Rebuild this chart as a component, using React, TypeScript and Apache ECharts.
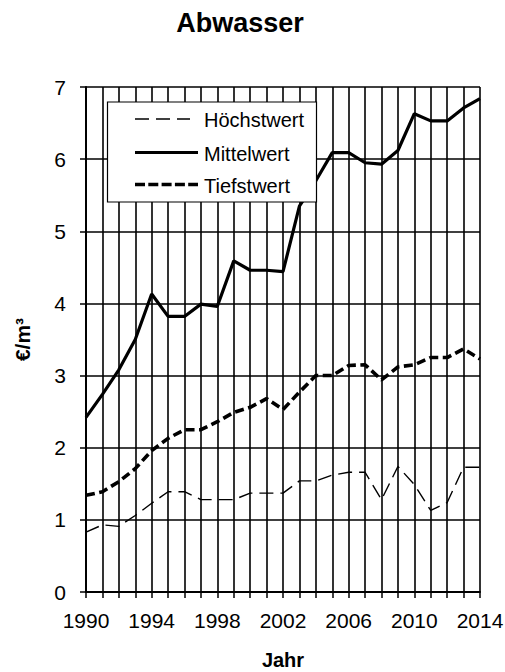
import React, { useEffect, useRef } from "react";
import * as echarts from "echarts";

const years = [1990,1991,1992,1993,1994,1995,1996,1997,1998,1999,2000,2001,2002,2003,2004,2005,2006,2007,2008,2009,2010,2011,2012,2013,2014];
const hoechstwert = [0.83,0.93,0.91,1.06,1.23,1.39,1.39,1.28,1.28,1.28,1.37,1.37,1.37,1.54,1.54,1.62,1.66,1.66,1.28,1.74,1.49,1.13,1.24,1.73,1.73];
const mittelwert = [2.42,2.74,3.08,3.5,4.13,3.82,3.82,3.99,3.96,4.59,4.46,4.46,4.44,5.35,5.7,6.09,6.09,5.95,5.93,6.12,6.63,6.53,6.53,6.71,6.84];
const tiefstwert = [1.34,1.39,1.53,1.71,1.96,2.13,2.25,2.25,2.36,2.49,2.56,2.68,2.53,2.77,3.0,3.0,3.14,3.15,2.94,3.12,3.15,3.25,3.25,3.37,3.23];
const seriesNames = ["Höchstwert", "Mittelwert", "Tiefstwert"];

const FONT = "'Liberation Sans', Arial, sans-serif";

export default function App() {
  const ref = useRef<HTMLDivElement>(null);
  useEffect(() => {
    if (!ref.current) return;
    const chart = echarts.init(ref.current, null, { renderer: "svg" });
    const pair = (arr: number[]) => years.map((y, i) => [y, arr[i]]);
    const legendRows = [
      { name: seriesNames[0], width: 1.5, dash: [14, 7] as number[] | null, y: 119, x2: 190 },
      { name: seriesNames[1], width: 3.2, dash: null, y: 152.5, x2: 198 },
      { name: seriesNames[2], width: 3.6, dash: [10, 3.3] as number[] | null, y: 184.5, x2: 198 },
    ];
    const legendEls: any[] = [
      { type: "rect", shape: { x: 107.5, y: 102, width: 209, height: 100 }, style: { fill: "#fff", stroke: "#000", lineWidth: 1.2 }, z: 100 },
    ];
    legendRows.forEach((r) => {
      legendEls.push({
        type: "line",
        shape: { x1: 135, y1: r.y, x2: r.x2, y2: r.y },
        style: { stroke: "#000", lineWidth: r.width, lineDash: r.dash || undefined },
        z: 101,
      });
      legendEls.push({
        type: "text",
        x: 204,
        y: r.y + 1,
        style: { text: r.name, fill: "#000", fontSize: 20, fontFamily: FONT, verticalAlign: "middle", align: "left" },
        z: 101,
      });
    });
    chart.setOption({
      animation: false,
      backgroundColor: "#fff",
      title: {
        text: "Abwasser",
        left: 235,
        top: 4,
        textAlign: "center",
        textStyle: { fontFamily: FONT, fontSize: 27, fontWeight: "bold", color: "#000" },
      },
      grid: { left: 86, right: 25, top: 87, bottom: 80, containLabel: false, outerBoundsMode: "none" },
      xAxis: {
        type: "value",
        min: 1990,
        max: 2014,
        interval: 1,
        name: "Jahr",
        nameLocation: "middle",
        nameGap: 58,
        nameTextStyle: { fontFamily: FONT, fontSize: 20, fontWeight: "bold", color: "#000" },
        axisLine: { show: true, lineStyle: { color: "#000", width: 2 } },
        axisTick: { show: true, length: 6, lineStyle: { color: "#000", width: 1.5 } },
        splitLine: { show: true, lineStyle: { color: "#000", width: 1.6 } },
        axisLabel: {
          fontFamily: FONT,
          fontSize: 21,
          color: "#000",
          margin: 18,
          formatter: (v: number) => ((v - 1990) % 4 === 0 ? String(v) : ""),
        },
      },
      yAxis: {
        type: "value",
        min: 0,
        max: 7,
        interval: 1,
        name: "€/m³",
        nameLocation: "middle",
        nameGap: 53,
        nameRotate: 90,
        nameTextStyle: { fontFamily: FONT, fontSize: 21, fontWeight: "bold", color: "#000" },
        axisLine: { show: true, lineStyle: { color: "#000", width: 2 } },
        axisTick: { show: true, length: 6, lineStyle: { color: "#000", width: 1.5 } },
        splitLine: { show: true, lineStyle: { color: "#000", width: 1.6 } },
        axisLabel: { fontFamily: FONT, fontSize: 21, color: "#000", margin: 20 },
      },
      series: [
        {
          name: seriesNames[0],
          type: "line",
          data: pair(hoechstwert),
          symbol: "none",
          lineStyle: { color: "#000", width: 1.4, type: [14, 7] },
          z: 5,
        },
        {
          name: seriesNames[1],
          type: "line",
          data: pair(mittelwert),
          symbol: "none",
          lineStyle: { color: "#000", width: 3.2 },
          z: 5,
        },
        {
          name: seriesNames[2],
          type: "line",
          data: pair(tiefstwert),
          symbol: "none",
          lineStyle: { color: "#000", width: 3.6, type: [9, 4.5] },
          z: 5,
        },
      ],
      graphic: legendEls,
    });
    return () => chart.dispose();
  }, []);
  return <div ref={ref} style={{ width: 505, height: 672, position: "absolute", left: 0, top: 0 }} />;
}
